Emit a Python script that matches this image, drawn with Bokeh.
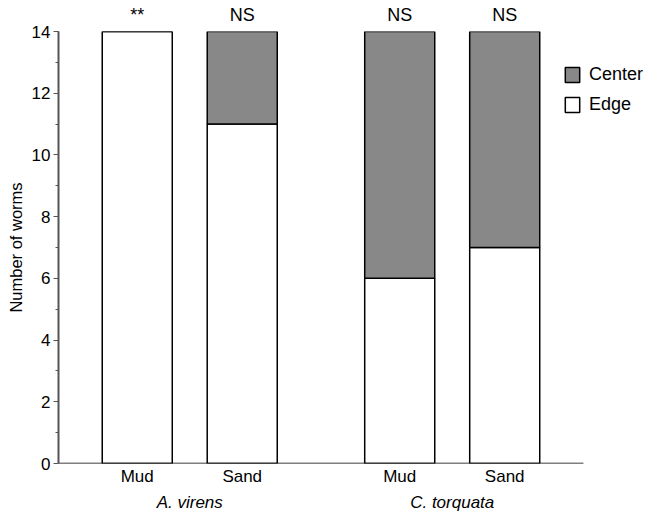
from bokeh.plotting import figure
from bokeh.models import (Range1d, FixedTicker, SingleIntervalTicker, Legend, LegendItem,
                          ColumnDataSource, LinearAxis)
from bokeh.embed import file_html
from bokeh.resources import INLINE

# ---- data ----
species = ["A. virens", "A. virens", "C. torquata", "C. torquata"]
substrates = ["Mud", "Sand", "Mud", "Sand"]
positions = [0.75, 1.75, 3.25, 4.25]
edge = [14, 11, 6, 7]
center = [0, 3, 8, 7]
signif = ["**", "NS", "NS", "NS"]
group_names = ["A. virens", "C. torquata"]

FONT = "Liberation Sans"
GRAY = "#888888"
X_END = 5.0

bottom_center = edge
top_center = [e + c for e, c in zip(edge, center)]

src = ColumnDataSource(dict(x=positions, edge=edge, bc=bottom_center, tc=top_center,
                            zero=[0] * len(edge)))

p = figure(width=649, height=514, output_backend="svg", toolbar_location=None,
           x_range=Range1d(0, 5.629), y_range=Range1d(0, 14),
           min_border_left=58, min_border_right=0, min_border_top=31, min_border_bottom=51)
p.outline_line_color = None
p.grid.grid_line_color = None
p.background_fill_color = "white"

r_edge = p.vbar(x="x", bottom="zero", top="edge", width=0.667, source=src,
                fill_color="white", line_color="black", line_width=1.5)
r_center = p.vbar(x="x", bottom="bc", top="tc", width=0.667, source=src,
                  fill_color=GRAY, line_color="black", line_width=1.5)

# x axis baseline (ends after the last group)
p.segment(x0=[0], y0=[0], x1=[X_END], y1=[0], line_color="black", line_width=1.5)

# y axis
ya = p.yaxis[0]
ya.ticker = SingleIntervalTicker(interval=2, num_minor_ticks=2)
ya.axis_label = "Number of worms"
ya.axis_label_text_font = FONT
ya.axis_label_text_font_size = "16.5px"
ya.axis_label_text_font_style = "normal"
ya.axis_label_text_color = "black"
ya.axis_label_standoff = 4
ya.major_label_text_font = FONT
ya.major_label_text_font_size = "17px"
ya.major_label_text_color = "black"
ya.major_label_standoff = 3
ya.axis_line_color = "#555555"
ya.axis_line_width = 2
ya.major_tick_line_color = "#555555"
ya.minor_tick_line_color = "#555555"
ya.major_tick_out = 5
ya.major_tick_in = 0
ya.minor_tick_out = 3
ya.minor_tick_in = 0


def plain_axis(ax, ticks, labels, standoff, size="17px", style="normal"):
    ax.ticker = FixedTicker(ticks=ticks)
    ax.major_label_overrides = {t: l for t, l in zip(ticks, labels)}
    ax.major_label_text_font = FONT
    ax.major_label_text_font_size = size
    ax.major_label_text_font_style = style
    ax.major_label_text_color = "black"
    ax.major_label_standoff = standoff
    ax.major_tick_line_color = None
    ax.minor_tick_line_color = None
    ax.major_tick_out = 0
    ax.major_tick_in = 0
    ax.minor_tick_out = 0
    ax.minor_tick_in = 0
    ax.axis_line_color = None


# x axis: substrates
plain_axis(p.xaxis[0], positions, substrates, 3)

# group names axis
group_pos = []
for g in group_names:
    xs = [pos for pos, s in zip(positions, species) if s == g]
    group_pos.append(sum(xs) / len(xs))
gax = LinearAxis()
plain_axis(gax, group_pos, group_names, 4, "17px", "italic")
p.add_layout(gax, "below")

# significance axis (above)
sax = LinearAxis()
plain_axis(sax, positions, signif, 7, "18px")
p.add_layout(sax, "above")

legend = Legend(items=[LegendItem(label="Center", renderers=[r_center]),
                       LegendItem(label="Edge", renderers=[r_edge])],
                location=(505, 348))
legend.border_line_color = None
legend.background_fill_alpha = 0
legend.padding = 0
legend.margin = 0
legend.spacing = 9
legend.glyph_width = 18
legend.glyph_height = 19
legend.label_height = 19
legend.label_standoff = 8
legend.label_text_font = FONT
legend.label_text_font_size = "18px"
legend.label_text_color = "black"
p.add_layout(legend)

open("out.html", "w").write(file_html(p, INLINE))
